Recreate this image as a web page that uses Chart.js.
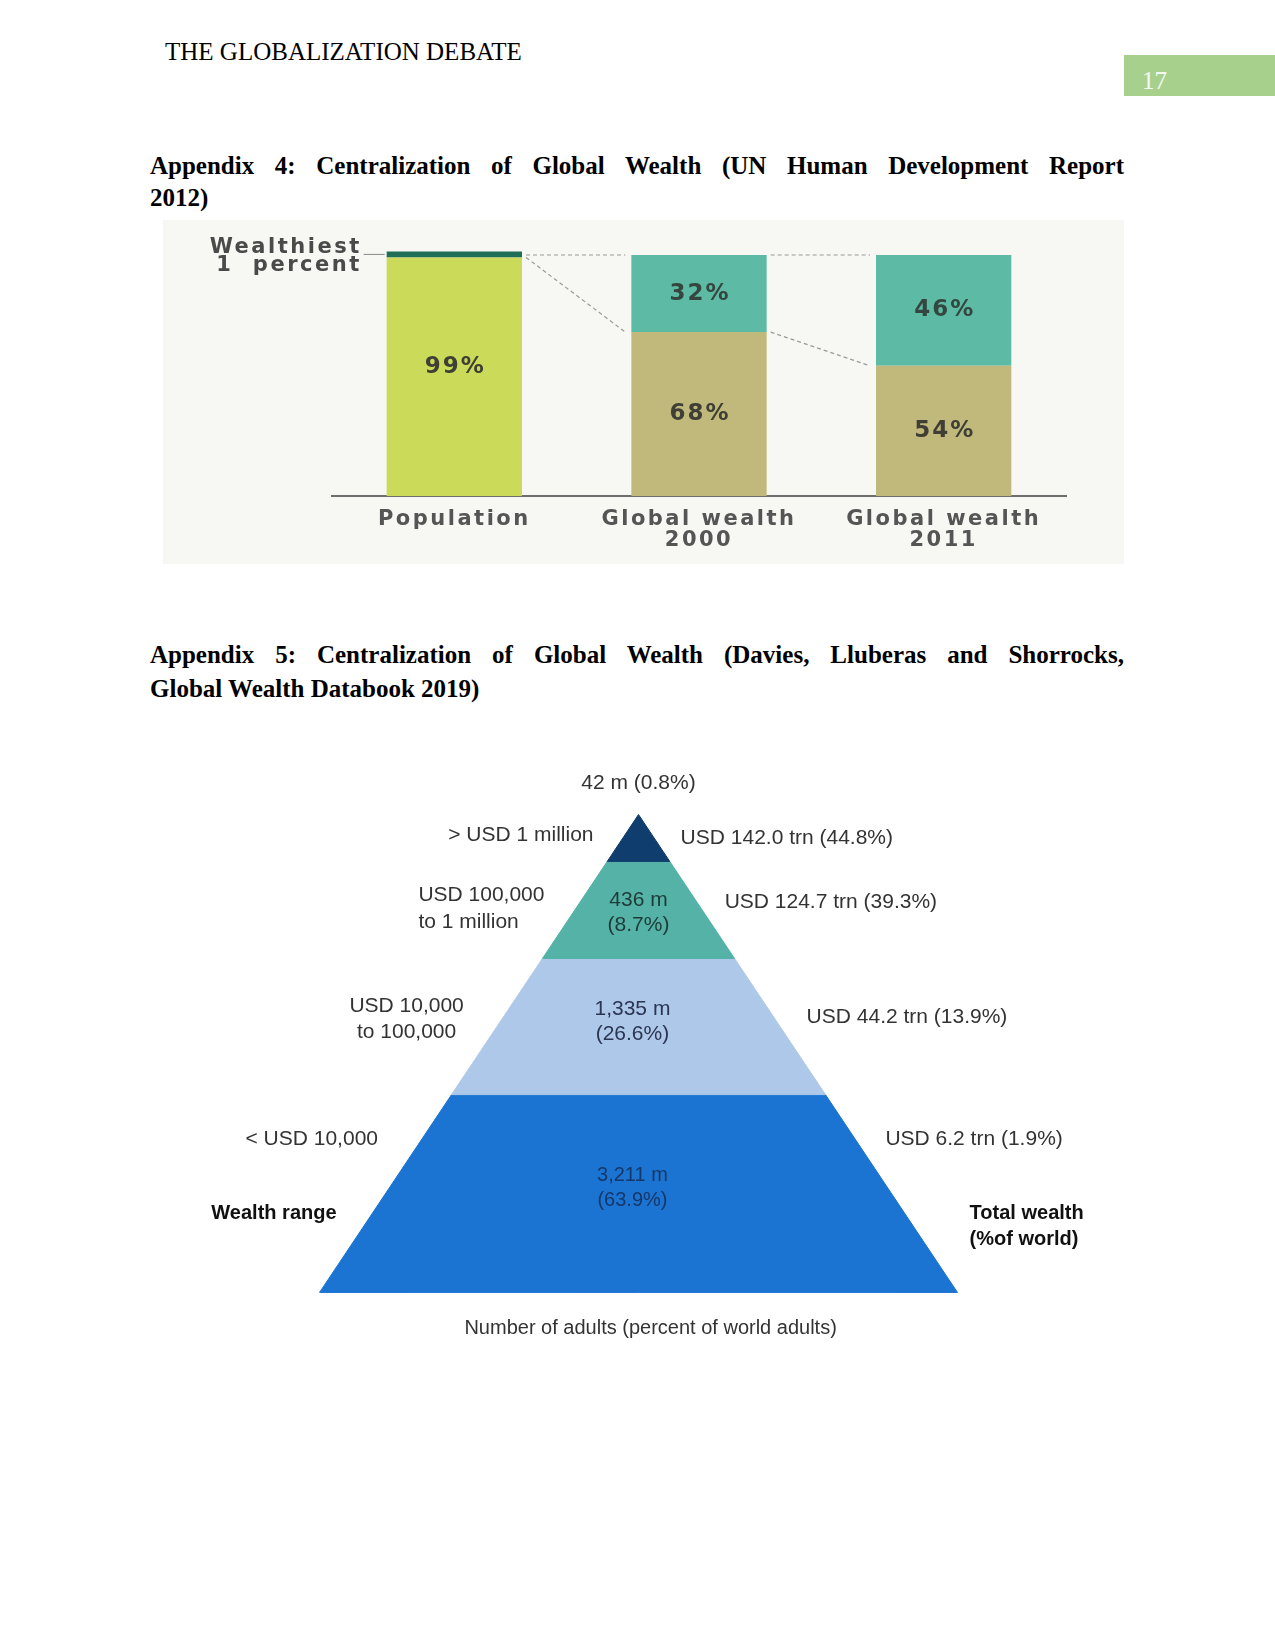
<!DOCTYPE html>
<html>
<head>
<meta charset="utf-8">
<script src="https://cdn.jsdelivr.net/npm/chart.js@4/dist/chart.umd.min.js"></script>
<style>
  body { margin: 0; width: 1275px; height: 1651px; background: #fff; position: relative; font-family: "Liberation Serif", "Times New Roman", serif; color: #000; }
  .abs { position: absolute; white-space: nowrap; }
  .hdr { left: 165px; top: 39px; font-size: 25px; line-height: 25px; }
  .pgbox { left: 1124px; top: 55px; width: 151px; height: 41px; background: #a8d08d; }
  .pgnum { left: 1142px; top: 68px; font-size: 25px; line-height: 25px; color: #f4f9ef; }
  .h { left: 150px; width: 974px; font-size: 25px; line-height: 25px; font-weight: bold; }
  .just { text-align: justify; text-align-last: justify; white-space: normal; }
  #panel1 { left: 163px; top: 220px; width: 961px; height: 344px; background: #f7f7f4; }
  #panel2 { left: 160px; top: 719px; width: 957px; height: 669px; }
</style>
</head>
<body>
<div class="abs hdr">THE GLOBALIZATION DEBATE</div>
<div class="abs pgbox"></div>
<div class="abs pgnum">17</div>

<div class="abs h just" style="top:153px">Appendix 4: Centralization of Global Wealth (UN Human Development Report</div>
<div class="abs h" style="top:185px">2012)</div>

<div class="abs" id="panel1"><canvas id="bars" width="961" height="344"></canvas></div>

<div class="abs h just" style="top:642px">Appendix 5: Centralization of Global Wealth (Davies, Lluberas and Shorrocks,</div>
<div class="abs h" style="top:676px">Global Wealth Databook 2019)</div>

<div class="abs" id="panel2"><canvas id="pyramid" width="957" height="669"></canvas></div>

<script>
// Appendix 4 data
const barCategories = ['Population', ['Global wealth', '2000'], ['Global wealth', '2011']];
const restShare = [99, 68, 54];   // bottom part of each bar (%)
const topShare = [1, 32, 46];     // wealthiest 1 percent (%)

// Appendix 5 data (top tier first)
const wealthRanges = [['> USD 1 million'], ['USD 100,000', 'to 1 million'], ['USD 10,000', 'to 100,000'], ['< USD 10,000']];
const adultsMillions = ['42', '436', '1,335', '3,211'];
const adultsShare = [0.8, 8.7, 26.6, 63.9];
const wealthTrn = [142.0, 124.7, 44.2, 6.2];
const wealthShare = [44.8, 39.3, 13.9, 1.9];
// tier boundaries as a fraction of pyramid height
const pyramidLevels = [1, 0.902, 0.699, 0.414, 0];

Chart.defaults.animation = false;
Chart.defaults.plugins.legend.display = false;
Chart.defaults.plugins.tooltip.enabled = false;
Chart.defaults.events = [];

const wideFont = '"DejaVu Sans", sans-serif';

const barExtras = {
  id: 'barExtras',
  beforeDraw(chart) {
    chart.ctx.letterSpacing = '2.5px';
  },
  afterDatasetsDraw(chart) {
    const ctx = chart.ctx;
    const rest = chart.getDatasetMeta(0).data;
    const top = chart.getDatasetMeta(1).data;
    const yFull = chart.scales.y.getPixelForValue(100);
    ctx.save();
    ctx.letterSpacing = '2px';
    ctx.font = 'bold 23px ' + wideFont;
    ctx.textAlign = 'center';
    ctx.textBaseline = 'middle';
    ctx.fillStyle = '#3f3f36';
    rest.forEach((b, i) => {
      ctx.fillText(restShare[i] + '%', b.x + 1, (b.y + b.base) / 2 - (i === 0 ? 10 : 0));
    });
    ctx.fillStyle = '#34463f';
    top.forEach((b, i) => {
      if (i === 0) return;
      ctx.fillText(topShare[i] + '%', b.x + 1, (b.y + b.base) / 2);
    });

    // dashed connectors between the bars
    ctx.strokeStyle = '#9a9a9a';
    ctx.lineWidth = 1.2;
    ctx.setLineDash([4, 3]);
    for (let i = 0; i < top.length - 1; i++) {
      const a = top[i], b = top[i + 1];
      const ax = a.x + a.width / 2 + 4, bx = b.x - b.width / 2 - 6;
      ctx.beginPath();
      ctx.moveTo(ax, yFull);
      ctx.lineTo(bx, yFull);
      ctx.moveTo(ax, a.base);
      ctx.lineTo(bx, b.base);
      ctx.stroke();
    }
    ctx.setLineDash([]);

    // "Wealthiest 1 percent" callout
    const p = top[0];
    const left = p.x - p.width / 2;
    const cy = (p.y + p.base) / 2;
    ctx.strokeStyle = '#8a8a8a';
    ctx.lineWidth = 1;
    ctx.beginPath();
    ctx.moveTo(left - 23, cy);
    ctx.lineTo(left - 2, cy);
    ctx.stroke();
    ctx.fillStyle = '#4a4a4a';
    ctx.letterSpacing = '2.5px';
    ctx.font = 'bold 21px ' + wideFont;
    ctx.textAlign = 'right';
    ctx.fillText('Wealthiest', left - 25, cy - 7);
    ctx.fillText('1  percent', left - 25, cy + 11);
    ctx.restore();
  }
};

new Chart(document.getElementById('bars'), {
  type: 'bar',
  data: {
    labels: barCategories,
    datasets: [
      {
        data: restShare,
        backgroundColor: ['#cbdb59', '#c1b97c', '#c1b97c'],
        barPercentage: 0.553,
        categoryPercentage: 1
      },
      {
        data: topShare,
        backgroundColor: ['#1f6e56', '#5cbaa5', '#5cbaa5'],
        barPercentage: 0.553,
        categoryPercentage: 1,
        minBarLength: 6,
        clip: false
      }
    ]
  },
  options: {
    responsive: false,
    layout: { padding: { left: 169, right: 58, top: 35, bottom: 0 } },
    scales: {
      x: {
        stacked: true,
        grid: { display: false, drawTicks: false },
        border: { display: true, color: '#6e6e6e', width: 2 },
        ticks: {
          padding: 13,
          color: '#555',
          font: { family: wideFont, size: 21, weight: 'bold', lineHeight: 1.0 },
          maxRotation: 0,
          autoSkip: false
        }
      },
      y: { stacked: true, min: 0, max: 100, display: false }
    }
  },
  plugins: [barExtras]
});

// pyramid tiers as closed shapes in a scatter chart
const tierColors = ['#0f3d6d', '#54b2a6', '#aec8ea', '#1c74d2'];
const tierSets = tierColors.map((c, i) => {
  const lt = pyramidLevels[i], lb = pyramidLevels[i + 1];
  const ht = 1 - lt, hb = 1 - lb;
  return {
    data: [{x: -hb, y: lb}, {x: hb, y: lb}, {x: ht, y: lt}, {x: -ht, y: lt}, {x: -hb, y: lb}],
    showLine: true,
    fill: 'shape',
    backgroundColor: c,
    borderColor: c,
    borderWidth: 1,
    pointRadius: 0,
    tension: 0
  };
});

const pyramidText = {
  id: 'pyramidText',
  afterDatasetsDraw(chart) {
    const {ctx, scales: {x, y}} = chart;
    const sans = '"Liberation Sans", Arial, sans-serif';
    const put = (txt, dx, dy, align, color, font) => {
      ctx.font = font || ('21px ' + sans);
      ctx.textAlign = align;
      ctx.fillStyle = color || '#333';
      ctx.fillText(txt, x.getPixelForValue(dx), y.getPixelForValue(dy));
    };
    ctx.save();
    ctx.textBaseline = 'middle';
    const pct = v => '(' + v.toFixed(1) + '%)';
    const trn = i => 'USD ' + wealthTrn[i].toFixed(1) + ' trn ' + pct(wealthShare[i]);

    // top tier: count sits above the apex
    put(adultsMillions[0] + ' m ' + pct(adultsShare[0]), 0, 1.065, 'center');
    put(wealthRanges[0][0], -0.141, 0.956, 'right');
    put(trn(0), 0.132, 0.950, 'left');

    put(wealthRanges[1][0], -0.690, 0.831, 'left');
    put(wealthRanges[1][1], -0.690, 0.774, 'left');
    put(adultsMillions[1] + ' m', 0, 0.820, 'center', '#1f3b38');
    put(pct(adultsShare[1]), 0, 0.768, 'center', '#1f3b38');
    put(trn(1), 0.270, 0.816, 'left');

    put(wealthRanges[2][0], -0.727, 0.600, 'center');
    put(wealthRanges[2][1], -0.727, 0.544, 'center');
    put(adultsMillions[2] + ' m', -0.019, 0.592, 'center', '#2a3550');
    put(pct(adultsShare[2]), -0.019, 0.540, 'center', '#2a3550');
    put(trn(2), 0.527, 0.577, 'left');

    put(wealthRanges[3][0], -1.232, 0.320, 'left');
    put(adultsMillions[3] + ' m', -0.019, 0.245, 'center', '#15386a', '20px ' + sans);
    put(pct(adultsShare[3]), -0.019, 0.192, 'center', '#15386a', '20px ' + sans);
    put(trn(3), 0.774, 0.320, 'left');

    put('Wealth range', -1.339, 0.165, 'left', '#111', 'bold 20px ' + sans);
    put('Total wealth', 1.038, 0.165, 'left', '#111', 'bold 20px ' + sans);
    put('(%of world)', 1.038, 0.111, 'left', '#111', 'bold 20px ' + sans);
    put('Number of adults (percent of world adults)', 0.038, -0.075, 'center', '#333', '20px ' + sans);
    ctx.restore();
  }
};

new Chart(document.getElementById('pyramid'), {
  type: 'scatter',
  data: { datasets: tierSets },
  options: {
    responsive: false,
    layout: { padding: 0 },
    scales: {
      x: { type: 'linear', min: -1.5, max: 1.5, display: false },
      y: { type: 'linear', min: -0.2, max: 1.2, display: false }
    }
  },
  plugins: [pyramidText]
});
</script>
</body>
</html>
